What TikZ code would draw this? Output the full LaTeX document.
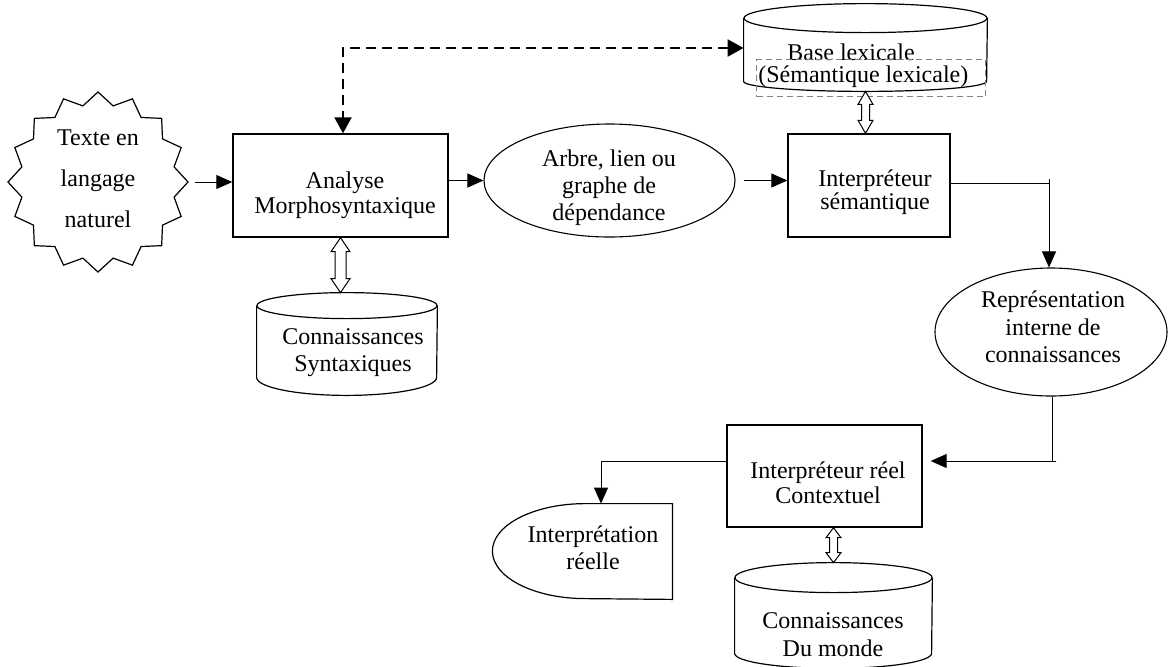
\documentclass[tikz,border=0pt]{standalone}
\usepackage{fontspec}
\setmainfont{Liberation Serif}
\usetikzlibrary{arrows.meta,calc,shapes.geometric}
\lineskiplimit=-\maxdimen

\begin{document}
\begin{tikzpicture}[x=0.5pt,y=-0.5pt,
  procbox/.style={draw, rectangle, line width=0.7pt, inner sep=0pt},
  oval/.style={draw, ellipse, line width=0.55pt, inner sep=0pt},
  frame/.style={rectangle, inner sep=0pt},
  outline/.style={line width=0.6pt},
  txt/.style={align=center, inner sep=0pt},
  arr/.style={line width=0.5pt, -{Triangle[length=8pt,width=7pt]}},
  plain/.style={line width=0.5pt},
  dasharr/.style={line width=1.1pt, dash pattern=on 5pt off 3pt,
    {Triangle[length=8pt,width=8.5pt]}-{Triangle[length=8pt,width=8.5pt]}},
  graybox/.style={draw=black!50, line width=0.6pt, dash pattern=on 3pt off 2pt,
    rectangle, inner sep=0pt},
  dbl/.style n args={3}{draw, fill=white, line width=0.5pt,
    to path={let \p1=(\tikztostart), \p2=(\tikztotarget) in
      (\x1,\y1) -- (\x1+#1*0.5pt,\y1-#3*0.5pt) -- (\x1+#2*0.5pt,\y1-#3*0.5pt)
      -- (\x1+#2*0.5pt,\y2+#3*0.5pt) -- (\x1+#1*0.5pt,\y2+#3*0.5pt) -- (\x1,\y2)
      -- (\x1-#1*0.5pt,\y2+#3*0.5pt) -- (\x1-#2*0.5pt,\y2+#3*0.5pt)
      -- (\x1-#2*0.5pt,\y1-#3*0.5pt) -- (\x1-#1*0.5pt,\y1-#3*0.5pt) -- cycle}}
]
\useasboundingbox (0,0) rectangle (1168,666);

% ---- shapes ----
\node[draw, star, star points=16, star point ratio=1.16, minimum size=90pt,
      inner sep=0pt, line width=0.6pt] (st) at (98,182) {};
\node[procbox, minimum width=107.5pt, minimum height=51.5pt] (ana) at (340.5,185.5) {};
\node[oval, minimum width=125.5pt, minimum height=56.5pt] (arb) at (609.5,180.5) {};
\node[procbox, minimum width=81pt, minimum height=51.5pt] (sem) at (869,185.5) {};
\node[oval, minimum width=116pt, minimum height=64pt] (rep) at (1051,332) {};
\node[procbox, minimum width=97.5pt, minimum height=51pt] (cr) at (824.5,476) {};

% cylinders (node = full outline extent)
\node[frame, minimum width=121.5pt, minimum height=43.5pt] (bl) at (865.5,47.5) {};
\draw[outline] ([yshift=-7.25pt]bl.north west) -- ([yshift=5pt]bl.south west)
  arc[start angle=180, end angle=360, x radius=60.75pt, y radius=5pt]
  -- ([yshift=-7.25pt]bl.north east);
\draw[outline] ([yshift=-7.25pt]bl.north) ellipse[x radius=60.75pt, y radius=7.25pt];

\node[frame, minimum width=90pt, minimum height=51pt] (cs) at (347,344) {};
\draw[outline] ([yshift=-6.5pt]cs.north west) -- ([yshift=9pt]cs.south west)
  arc[start angle=180, end angle=360, x radius=45pt, y radius=9pt]
  -- ([yshift=-6.5pt]cs.north east);
\draw[outline] ([yshift=-6.5pt]cs.north) ellipse[x radius=45pt, y radius=6.5pt];

\node[frame, minimum width=98.5pt, minimum height=52.5pt] (cm) at (833.5,615.5) {};
\draw[outline] ([yshift=-7.5pt]cm.north west) -- ([yshift=7.5pt]cm.south west)
  arc[start angle=180, end angle=360, x radius=49.25pt, y radius=7.5pt]
  -- ([yshift=-7.5pt]cm.north east);
\draw[outline] ([yshift=-7.5pt]cm.north) ellipse[x radius=49.25pt, y radius=7.5pt];

% result shape: rounded left, straight right
\node[frame, minimum width=90pt, minimum height=47.5pt] (ir) at (582,551.5) {};
\draw[outline] (ir.north east) -- ++(-87,0)
  arc[start angle=90, end angle=270, x radius=46.5pt, y radius=23.75pt]
  -- (ir.south east) -- cycle;

% ---- texts ----
\node[txt, font=\fontsize{12}{20.5}\selectfont] (st-t) at (98,178.75) {Texte en\\langage\\naturel};
\node[txt, font=\fontsize{12}{12.5}\selectfont] (ana-t) at (345,194.85) {Analyse\\Morphosyntaxique};
\node[txt, font=\fontsize{12}{13.5}\selectfont] (arb-t) at (609,187.35) {Arbre, lien ou\\graphe de\\dépendance};
\node[txt, font=\fontsize{12}{11.5}\selectfont] (sem-t) at (875,192) {Interpréteur\\sémantique};
\node[txt, font=\fontsize{12}{14}\selectfont, anchor=base west] (bl-t) at (787,60) {Base lexicale};
\node[graybox, anchor=north west, minimum width=114.5pt, minimum height=18.5pt] (sl) at (756,59) {};
\node[txt, font=\fontsize{12}{14}\selectfont, anchor=base west] (sl-t) at (758,82) {(Sémantique lexicale)};
\node[txt, font=\fontsize{12}{13.75}\selectfont] (rep-t) at (1053,327.25) {Représentation\\interne de\\connaissances};
\node[txt, font=\fontsize{12}{13.5}\selectfont] (cs-t) at (353,352.85) {Connaissances\\Syntaxiques};
\node[txt, font=\fontsize{12}{12.5}\selectfont] (cr-t) at (828,483.25) {Interpréteur réel\\Contextuel};
\node[txt, font=\fontsize{12}{13.5}\selectfont] (ir-t) at (593,548.25) {Interprétation\\réelle};
\node[txt, font=\fontsize{12}{14}\selectfont] (cm-t) at (833,634.75) {Connaissances\\Du monde};

% ---- connectors ----
\coordinate (dc) at (343,48);
\coordinate (k3) at (1049,183);
\coordinate (k2) at (1052,461);
\coordinate (k1) at (601,461);

\draw[arr] ([xshift=3pt]st.east) -- (st.east -| ana.west);
\draw[arr] (arb.west -| ana.east) -- (arb.west);
\draw[arr] ([xshift=4pt]arb.east) -- (arb.east -| sem.west);
\draw[dasharr] (dc -| bl.west) -- (dc) -- (dc |- ana.north);

\draw[plain] (k3 -| sem.east) -- (k3);
\draw[arr] ([yshift=2pt]k3) -- (k3 |- rep.north);
\draw[plain] (k2 |- rep.south) -- (k2);
\draw[arr] ([xshift=2pt]k2) -- ([xshift=4pt]k2 -| cr.east);
\draw[arr] (k1 -| cr.west) -- (k1) -- (k1 |- ir.north);

\draw[dbl={9.5}{5.5}{14}] (ana.south) to (ana.south |- cs.north);
\draw[dbl={7.5}{4}{13}] (bl.south) to (bl.south |- sem.north);
\draw[dbl={7.5}{4}{10}] (cm.north |- cr.south) to (cm.north);
\end{tikzpicture}
\end{document}
